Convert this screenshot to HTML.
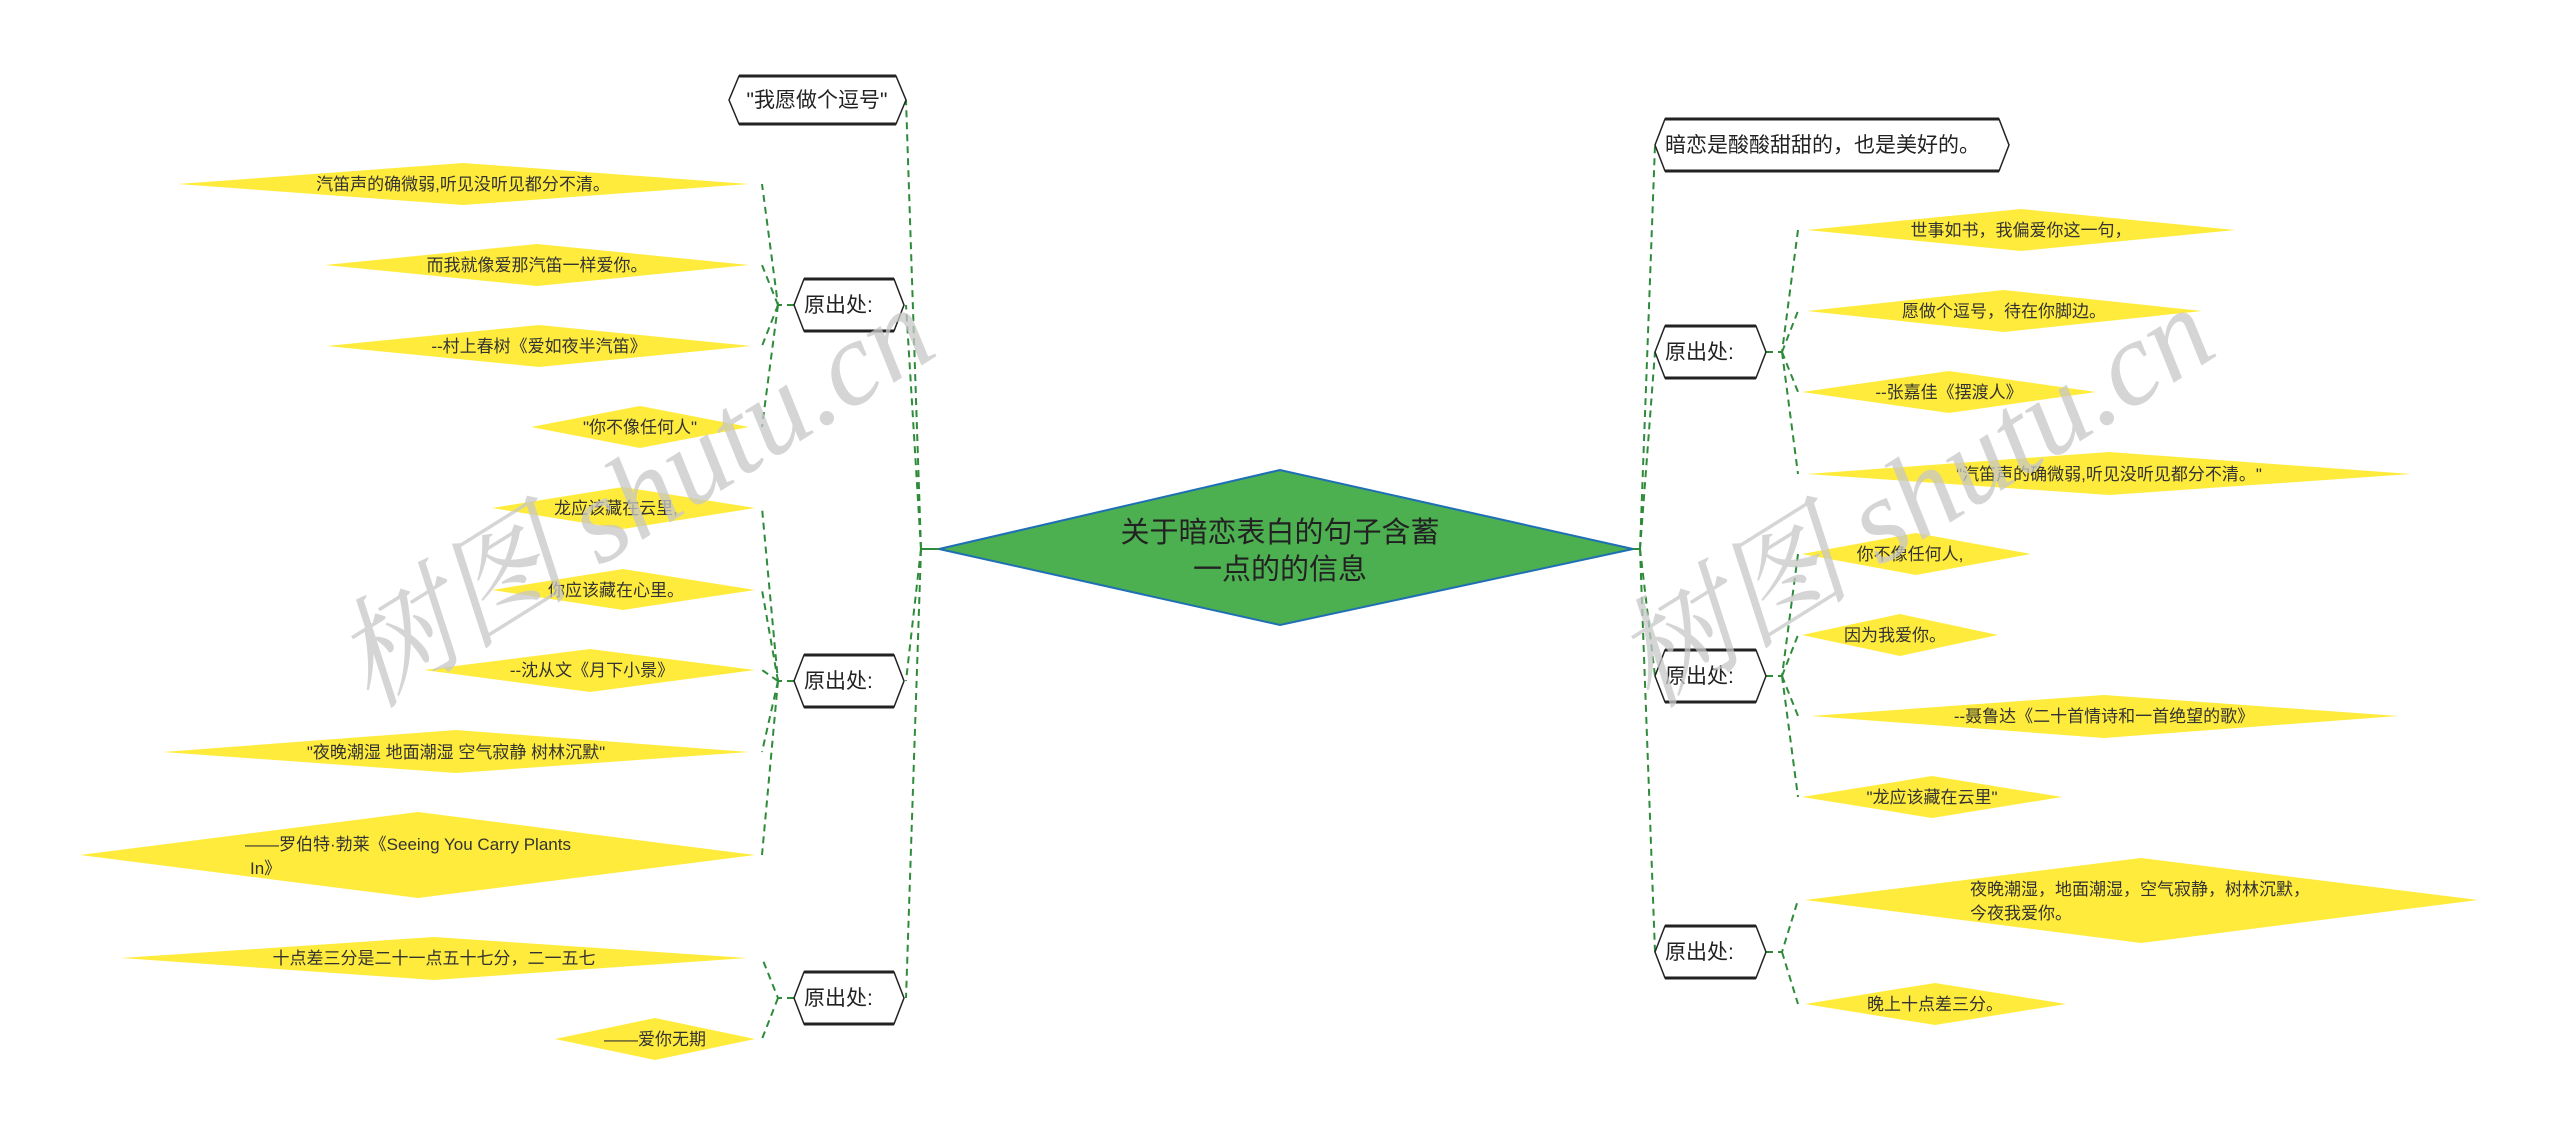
<!DOCTYPE html>
<html><head><meta charset="utf-8"><style>
html,body{margin:0;padding:0;background:#fff;}
svg{display:block;}
text{font-family:"Liberation Sans","Noto Sans CJK SC",sans-serif;}
.y{fill:#ffeb3b;stroke:none;}
.t{font-size:17px;fill:#333;}
.h{fill:#fff;stroke:#222;stroke-width:1.5;}
.hb{stroke:#222;stroke-width:3;}
.c{fill:none;stroke:#2e8b3a;stroke-width:2;stroke-dasharray:7,5;}
.n{font-size:21px;fill:#222;}
.wm{font-family:"Liberation Serif","Noto Serif CJK SC",serif;font-size:120px;fill:#c8c8c8;opacity:.75;font-style:italic;}
</style></head><body>
<svg width="2560" height="1135" viewBox="0 0 2560 1135" xmlns="http://www.w3.org/2000/svg">
<path class="c" d="M921,549 L906,100"/>
<path class="c" d="M921,549 L906,305"/>
<path class="c" d="M921,549 L906,681"/>
<path class="c" d="M921,549 L906,998"/>
<path d="M921,549 L939,549" stroke="#2e8b3a" stroke-width="2"/>
<path class="c" d="M1640,549 L1655,145"/>
<path class="c" d="M1640,549 L1655,352"/>
<path class="c" d="M1640,549 L1655,676"/>
<path class="c" d="M1640,549 L1655,952"/>
<path d="M1633,549 L1640,549" stroke="#2e8b3a" stroke-width="2"/>
<g class="c">
<path d="M794,305 L778,305 L762,184"/><path d="M778,305 L762,265"/><path d="M778,305 L762,346"/><path d="M778,305 L762,427"/>
<path d="M794,681 L778,681 L762,508"/><path d="M778,681 L762,590"/><path d="M778,681 L762,670"/><path d="M778,681 L762,752"/><path d="M778,681 L762,855"/>
<path d="M794,998 L778,998 L762,958"/><path d="M778,998 L762,1039"/>
</g>
<g class="c">
<path d="M1766,352 L1782,352 L1798,230"/><path d="M1782,352 L1798,311"/><path d="M1782,352 L1798,392"/><path d="M1782,352 L1798,474"/>
<path d="M1766,676 L1782,676 L1798,554"/><path d="M1782,676 L1798,635"/><path d="M1782,676 L1798,716"/><path d="M1782,676 L1798,797"/>
<path d="M1766,952 L1782,952 L1798,900"/><path d="M1782,952 L1798,1004"/>
</g>
<polygon points="939,549 1280,470 1633,549 1280,625" fill="#4caf50" stroke="#1f6fb5" stroke-width="2"/>
<text x="1280" y="542" text-anchor="middle" font-size="29" fill="#222">关于暗恋表白的句子含蓄</text>
<text x="1280" y="579" text-anchor="middle" font-size="29" fill="#222">一点的的信息</text>
<g>
<polygon class="h" points="729,100 739,76 896,76 906,100 896,124 739,124"/>
<text class="n" x="817" y="107" text-anchor="middle">"我愿做个逗号"</text>
<polygon class="h" points="794,305 804,279 894,279 904,305 894,331 804,331"/><text class="n" x="804" y="312">原出处:</text>
<polygon class="h" points="794,681 804,655 894,655 904,681 894,707 804,707"/><text class="n" x="804" y="688">原出处:</text>
<polygon class="h" points="794,998 804,972 894,972 904,998 894,1024 804,1024"/><text class="n" x="804" y="1005">原出处:</text>
<polygon class="h" points="1655,145 1665,119 1999,119 2009,145 1999,171 1665,171"/><text class="n" x="1665" y="152">暗恋是酸酸甜甜的，也是美好的。</text>
<polygon class="h" points="1655,352 1665,326 1756,326 1766,352 1756,378 1665,378"/><text class="n" x="1665" y="359">原出处:</text>
<polygon class="h" points="1655,676 1665,650 1756,650 1766,676 1756,702 1665,702"/><text class="n" x="1665" y="683">原出处:</text>
<polygon class="h" points="1655,952 1665,926 1756,926 1766,952 1756,978 1665,978"/><text class="n" x="1665" y="959">原出处:</text>
</g>
<g class="hb">
<path d="M739,76H896M739,124H896M804,279H894M804,331H894M804,655H894M804,707H894M804,972H894M804,1024H894"/>
<path d="M1665,119H1999M1665,171H1999M1665,326H1756M1665,378H1756M1665,650H1756M1665,702H1756M1665,926H1756M1665,978H1756"/>
</g>
<polygon class="y" points="178,184 463,163 749,184 463,205"/><text class="t" x="463" y="190" text-anchor="middle">汽笛声的确微弱,听见没听见都分不清。</text>
<polygon class="y" points="325,265 537,244 749,265 537,286"/><text class="t" x="537" y="271" text-anchor="middle">而我就像爱那汽笛一样爱你。</text>
<polygon class="y" points="327,346 539,325 751,346 539,367"/><text class="t" x="539" y="352" text-anchor="middle">--村上春树《爱如夜半汽笛》</text>
<polygon class="y" points="531,427 640,406 749,427 640,448"/><text class="t" x="640" y="433" text-anchor="middle">"你不像任何人"</text>
<polygon class="y" points="492,508 623,487 755,508 623,529"/><text class="t" x="616" y="514" text-anchor="middle">龙应该藏在云里,</text>
<polygon class="y" points="492,590 623,569 755,590 623,610"/><text class="t" x="616" y="596" text-anchor="middle">你应该藏在心里。</text>
<polygon class="y" points="424,670 590,649 755,670 590,692"/><text class="t" x="592" y="676" text-anchor="middle">--沈从文《月下小景》</text>
<polygon class="y" points="163,752 456,730 749,752 456,773"/><text class="t" x="456" y="758" text-anchor="middle">"夜晚潮湿 地面潮湿 空气寂静 树林沉默"</text>
<polygon class="y" points="80,855 418,812 755,855 418,898"/><text class="t" x="245" y="850">——罗伯特·勃莱《Seeing You Carry Plants</text><text class="t" x="250" y="874">In》</text>
<polygon class="y" points="121,958 434,937 747,958 434,980"/><text class="t" x="434" y="964" text-anchor="middle">十点差三分是二十一点五十七分，二一五七</text>
<polygon class="y" points="555,1039 655,1018 755,1039 655,1060"/><text class="t" x="655" y="1045" text-anchor="middle">——爱你无期</text>
<polygon class="y" points="1807,230 2021,209 2235,230 2021,251"/><text class="t" x="2021" y="236" text-anchor="middle">世事如书，我偏爱你这一句，</text>
<polygon class="y" points="1807,311 2004,290 2202,311 2004,332"/><text class="t" x="2004" y="317" text-anchor="middle">愿做个逗号，待在你脚边。</text>
<polygon class="y" points="1802,392 1949,371 2096,392 1949,413"/><text class="t" x="1949" y="398" text-anchor="middle">--张嘉佳《摆渡人》</text>
<polygon class="y" points="1807,474 2109,452 2411,474 2109,495"/><text class="t" x="2109" y="480" text-anchor="middle">"汽笛声的确微弱,听见没听见都分不清。"</text>
<polygon class="y" points="1802,554 1916,533 2031,554 1916,575"/><text class="t" x="1910" y="560" text-anchor="middle">你不像任何人,</text>
<polygon class="y" points="1802,635 1900,614 1998,635 1900,656"/><text class="t" x="1895" y="641" text-anchor="middle">因为我爱你。</text>
<polygon class="y" points="1811,716 2104,695 2398,716 2104,738"/><text class="t" x="2104" y="722" text-anchor="middle">--聂鲁达《二十首情诗和一首绝望的歌》</text>
<polygon class="y" points="1802,797 1932,776 2062,797 1932,818"/><text class="t" x="1932" y="803" text-anchor="middle">"龙应该藏在云里"</text>
<polygon class="y" points="1805,900 2141,858 2478,900 2141,943"/><text class="t" x="1970" y="895">夜晚潮湿，地面潮湿，空气寂静，树林沉默，</text><text class="t" x="1970" y="919">今夜我爱你。</text>
<polygon class="y" points="1805,1004 1935,983 2066,1004 1935,1025"/><text class="t" x="1935" y="1010" text-anchor="middle">晚上十点差三分。</text>
<text class="wm" x="0" y="0" transform="translate(370,710) rotate(-32)">树图 shutu.cn</text>
<text class="wm" x="0" y="0" transform="translate(1650,710) rotate(-32)">树图 shutu.cn</text>
</svg>
</body></html>
